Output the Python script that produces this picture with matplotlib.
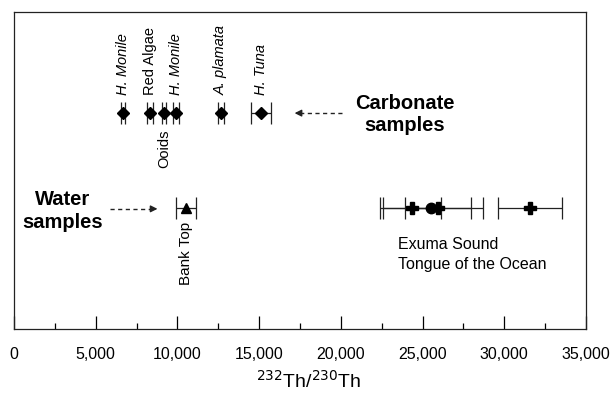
import matplotlib
matplotlib.use("Agg")
import matplotlib.pyplot as plt

plt.rcParams['font.family'] = ['Liberation Sans', 'DejaVu Sans']

# carbonate samples (diamonds)
carb_names = ["H. Monile", "Red Algae", "Ooids", "H. Monile", "A. plamata", "H. Tuna"]
carb_italic = [True, False, False, True, True, True]
carb_x = [6670, 8320, 9180, 9910, 12670, 15110]
carb_err = [130, 190, 150, 200, 210, 610]

# water samples
bank_x = [10520]
bank_err = [630]
exuma_x = [25520]          # circle
exuma_err = [3150]
tongue_x = [24350, 25940, 31570]   # plus
tongue_err = [1780, 2020, 1960]

xticks = [0, 5000, 10000, 15000, 20000, 25000, 30000, 35000]
xticklabels = ["0", "5,000", "10,000", "15,000", "20,000", "25,000", "30,000", "35,000"]

# rows (vertical positions in axes units)
y_carb = 0.681
y_water = 0.382

fig = plt.figure(figsize=(6.12, 3.93), dpi=100)
ax = fig.add_axes([14/612, 1 - 329/393, 572/612, 317/393])

eb = dict(fmt='none', ecolor='#222222', elinewidth=0.9, capsize=8, capthick=0.9)

# carbonate row
ax.errorbar(carb_x, [y_carb]*len(carb_x), xerr=carb_err, **eb)
ax.plot(carb_x, [y_carb]*len(carb_x), 'D', color='black', markersize=6.5, ls='none')
for name, xv, it in zip(carb_names, carb_x, carb_italic):
    st = 'italic' if it else 'normal'
    if name == "Ooids":
        ax.text(xv, 0.628, name, rotation=90, ha='center', va='top', fontsize=10.5, style=st)
    else:
        ax.text(xv, 0.738, name, rotation=90, ha='center', va='bottom', fontsize=10.5, style=st)

# water row
ax.errorbar(bank_x, [y_water], xerr=bank_err, **eb)
ax.plot(bank_x, [y_water], '^', color='black', markersize=7, ls='none')
ax.text(bank_x[0], 0.3375, "Bank Top", rotation=90, ha='center', va='top', fontsize=11)

ax.errorbar(exuma_x, [y_water], xerr=exuma_err, **eb)
ax.errorbar(tongue_x, [y_water]*len(tongue_x), xerr=tongue_err, **eb)
ax.plot(exuma_x, [y_water], 'o', color='black', markersize=7.5, ls='none')
ax.plot(tongue_x, [y_water]*len(tongue_x), 'P', color='black', markersize=8, ls='none')

ax.text(23500, 0.265, "Exuma Sound", ha='left', va='center', fontsize=11.5)
ax.text(23500, 0.202, "Tongue of the Ocean", ha='left', va='center', fontsize=11.5)

# group labels with dashed arrows
ax.text(23900, 0.677, "Carbonate\nsamples", ha='center', va='center',
        fontsize=14.5, fontweight='bold', linespacing=1.25)
ax.plot([20070, 17400], [y_carb, y_carb], ls=(0, (3, 2.5)), color='#222222', lw=1)
ax.annotate('', xy=(17000, y_carb), xytext=(17600, y_carb),
            arrowprops=dict(arrowstyle='-|>', color='#222222', lw=1, mutation_scale=10))

ax.text(3000, 0.372, "Water\nsamples", ha='center', va='center',
        fontsize=14.5, fontweight='bold', linespacing=1.25)
ax.plot([5870, 8550], [0.379, 0.379], ls=(0, (3, 2.5)), color='#222222', lw=1)
ax.annotate('', xy=(8950, 0.379), xytext=(8350, 0.379),
            arrowprops=dict(arrowstyle='-|>', color='#222222', lw=1, mutation_scale=10))

ax.set_xlim(0, 35000)
ax.set_ylim(0, 1)
ax.set_yticks([])
ax.set_xticks(xticks)
ax.set_xticklabels(xticklabels, fontsize=11.5)
ax.set_xticks(range(2500, 35000, 5000), minor=True)
ax.tick_params(axis='x', which='major', direction='in', length=9.5, width=0.9, pad=13)
ax.tick_params(axis='x', which='minor', direction='in', length=4, width=0.9)
for s in ax.spines.values():
    s.set_linewidth(0.9)
    s.set_color('#222222')

ax.set_xlabel(r'$^{232}$Th/$^{230}$Th', fontsize=14)
ax.xaxis.set_label_coords(0.515, -0.162)
ax.xaxis.label.set_va('center')

fig.savefig("out.png", dpi=100)
